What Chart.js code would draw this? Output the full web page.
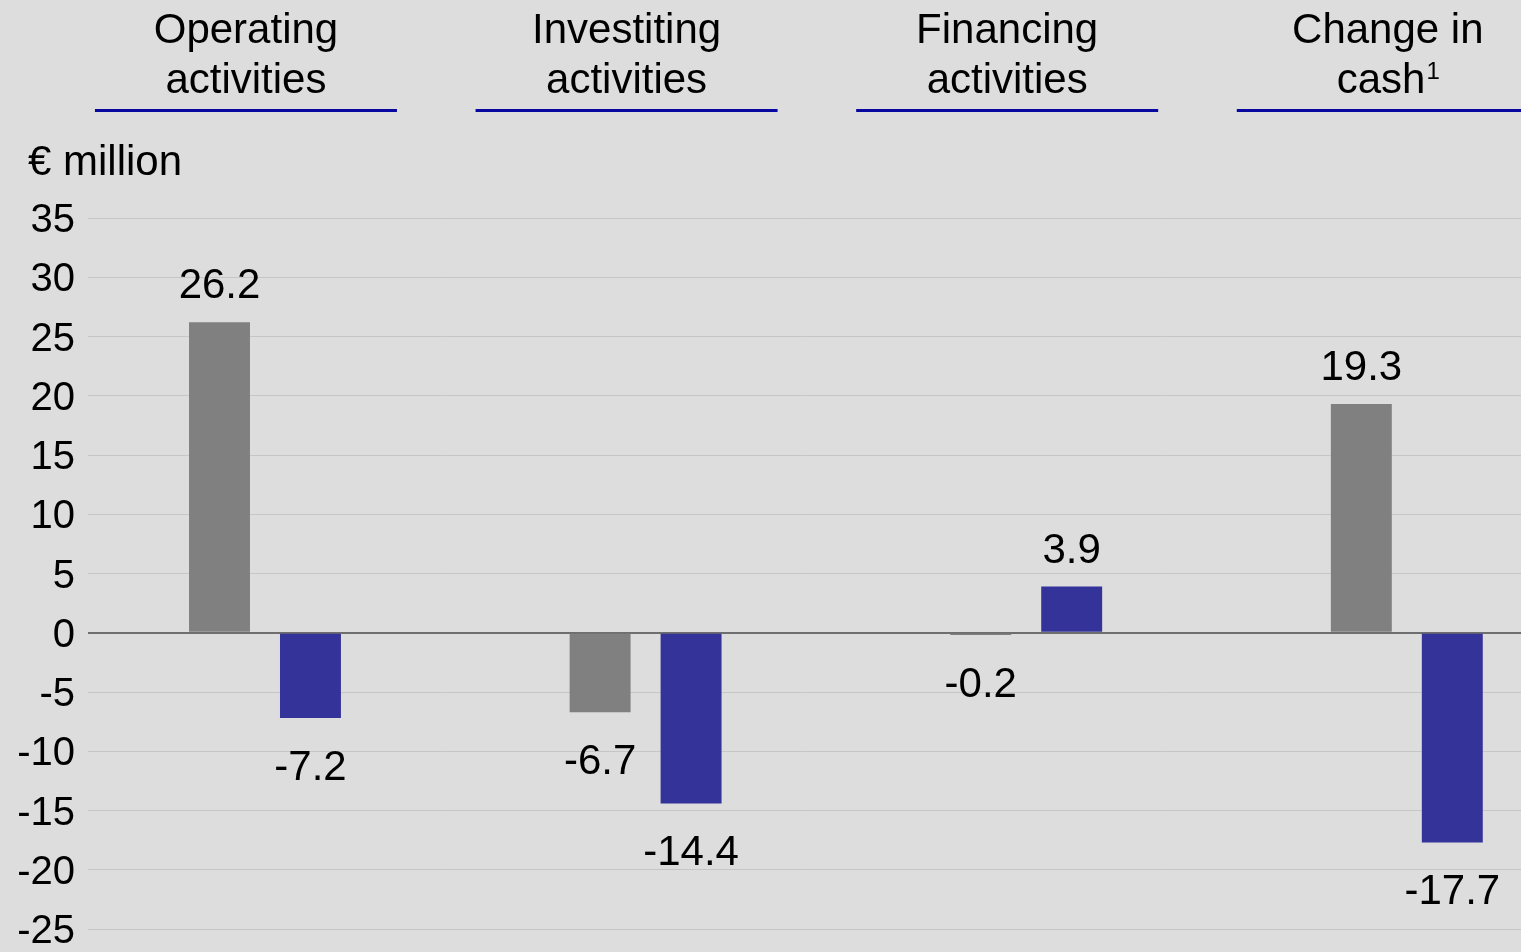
<!DOCTYPE html>
<html>
<head>
<meta charset="utf-8">
<script src="https://cdn.jsdelivr.net/npm/chart.js@4"></script>
<style>
  body { margin: 0; background: #dddddd; }
  #wrap { width: 1521px; height: 952px; position: relative; }
</style>
</head>
<body>
<div id="wrap"><canvas id="cashChart"></canvas></div>
<script>
// Header lines for each group (second line may carry a footnote mark)
const headerTop = ['Operating', 'Investiting', 'Financing', 'Change in'];
const headerBottom = ['activities', 'activities', 'activities', 'cash'];
const headerSup = ['', '', '', '1'];

// Two periods per group: grey bar first, blue bar second
const greyValues = [26.2, -6.7, -0.2, 19.3];
const blueValues = [-7.2, -14.4, 3.9, -17.7];

const yMin = -25;
const yMax = 35;
const yStep = 5;
const unitLabel = '€ million';

const FONT = "'Liberation Sans', Arial, sans-serif";

// groups sit at x = 0,1,2,3 on a linear axis so the spacing can run past the right edge
const groupX = headerTop.map((_, i) => i);

// Headers, blue underlines and the unit label
const headerPlugin = {
  id: 'headers',
  afterDraw(chart) {
    const ctx = chart.ctx;
    const x = chart.scales.x;
    ctx.save();
    ctx.fillStyle = '#000';
    ctx.textBaseline = 'alphabetic';
    groupX.forEach(i => {
      const cx = x.getPixelForValue(i - 0.05);
      ctx.font = '42px ' + FONT;
      ctx.textAlign = 'center';
      ctx.fillText(headerTop[i], cx, 43);
      if (headerSup[i]) {
        const w = ctx.measureText(headerBottom[i]).width;
        ctx.font = '24px ' + FONT;
        const sw = ctx.measureText(headerSup[i]).width;
        ctx.font = '42px ' + FONT;
        ctx.textAlign = 'left';
        const left = cx - (w + sw) / 2;
        ctx.fillText(headerBottom[i], left, 93);
        ctx.font = '24px ' + FONT;
        ctx.fillText(headerSup[i], left + w + 1, 79);
      } else {
        ctx.fillText(headerBottom[i], cx, 93);
      }
      ctx.fillStyle = '#0808a0';
      ctx.fillRect(cx - 151, 109, 302, 3);
      ctx.fillStyle = '#000';
    });
    ctx.font = '42px ' + FONT;
    ctx.textAlign = 'left';
    ctx.fillText(unitLabel, 28, 175);
    ctx.restore();
  }
};

// Value labels above positive bars and below negative ones
const valueLabels = {
  id: 'valueLabels',
  afterDatasetsDraw(chart) {
    const ctx = chart.ctx;
    ctx.save();
    ctx.font = '42px ' + FONT;
    ctx.fillStyle = '#000';
    ctx.textAlign = 'center';
    ctx.textBaseline = 'alphabetic';
    chart.data.datasets.forEach((ds, d) => {
      chart.getDatasetMeta(d).data.forEach((bar, i) => {
        const v = ds.data[i].y;
        const y = v >= 0 ? bar.y - 24 : bar.y + 62;
        ctx.fillText(v.toFixed(1), bar.x, y);
      });
    });
    ctx.restore();
  }
};

new Chart(document.getElementById('cashChart'), {
  type: 'bar',
  data: {
    datasets: [
      {
        label: 'Previous period',
        data: groupX.map(i => ({ x: i, y: greyValues[i] })),
        backgroundColor: '#808080'
      },
      {
        label: 'Current period',
        data: groupX.map(i => ({ x: i, y: blueValues[i] })),
        backgroundColor: '#333399'
      }
    ]
  },
  options: {
    responsive: true,
    maintainAspectRatio: false,
    animation: false,
    categoryPercentage: 0.478,
    barPercentage: 0.67,
    layout: { padding: { top: 218, bottom: 23, left: 0, right: 0 } },
    plugins: {
      legend: { display: false },
      tooltip: { enabled: false }
    },
    scales: {
      x: {
        type: 'linear',
        min: -0.465,
        max: 3.3,
        offset: false,
        display: false,
        ticks: { stepSize: 1, includeBounds: false }
      },
      y: {
        min: yMin,
        max: yMax,
        border: { display: false },
        grid: {
          drawTicks: false,
          color: c => c.tick.value === 0 ? '#6e6e6e' : '#c6c6c6',
          lineWidth: c => c.tick.value === 0 ? 2 : 1
        },
        ticks: {
          stepSize: yStep,
          padding: 13,
          labelOffset: 3,
          color: '#000',
          font: { size: 40, family: FONT }
        },
        afterFit(s) {
          s.width = 88;
          s.paddingTop = 0;
          s.paddingBottom = 0;
        }
      }
    }
  },
  plugins: [headerPlugin, valueLabels]
});
</script>
</body>
</html>
